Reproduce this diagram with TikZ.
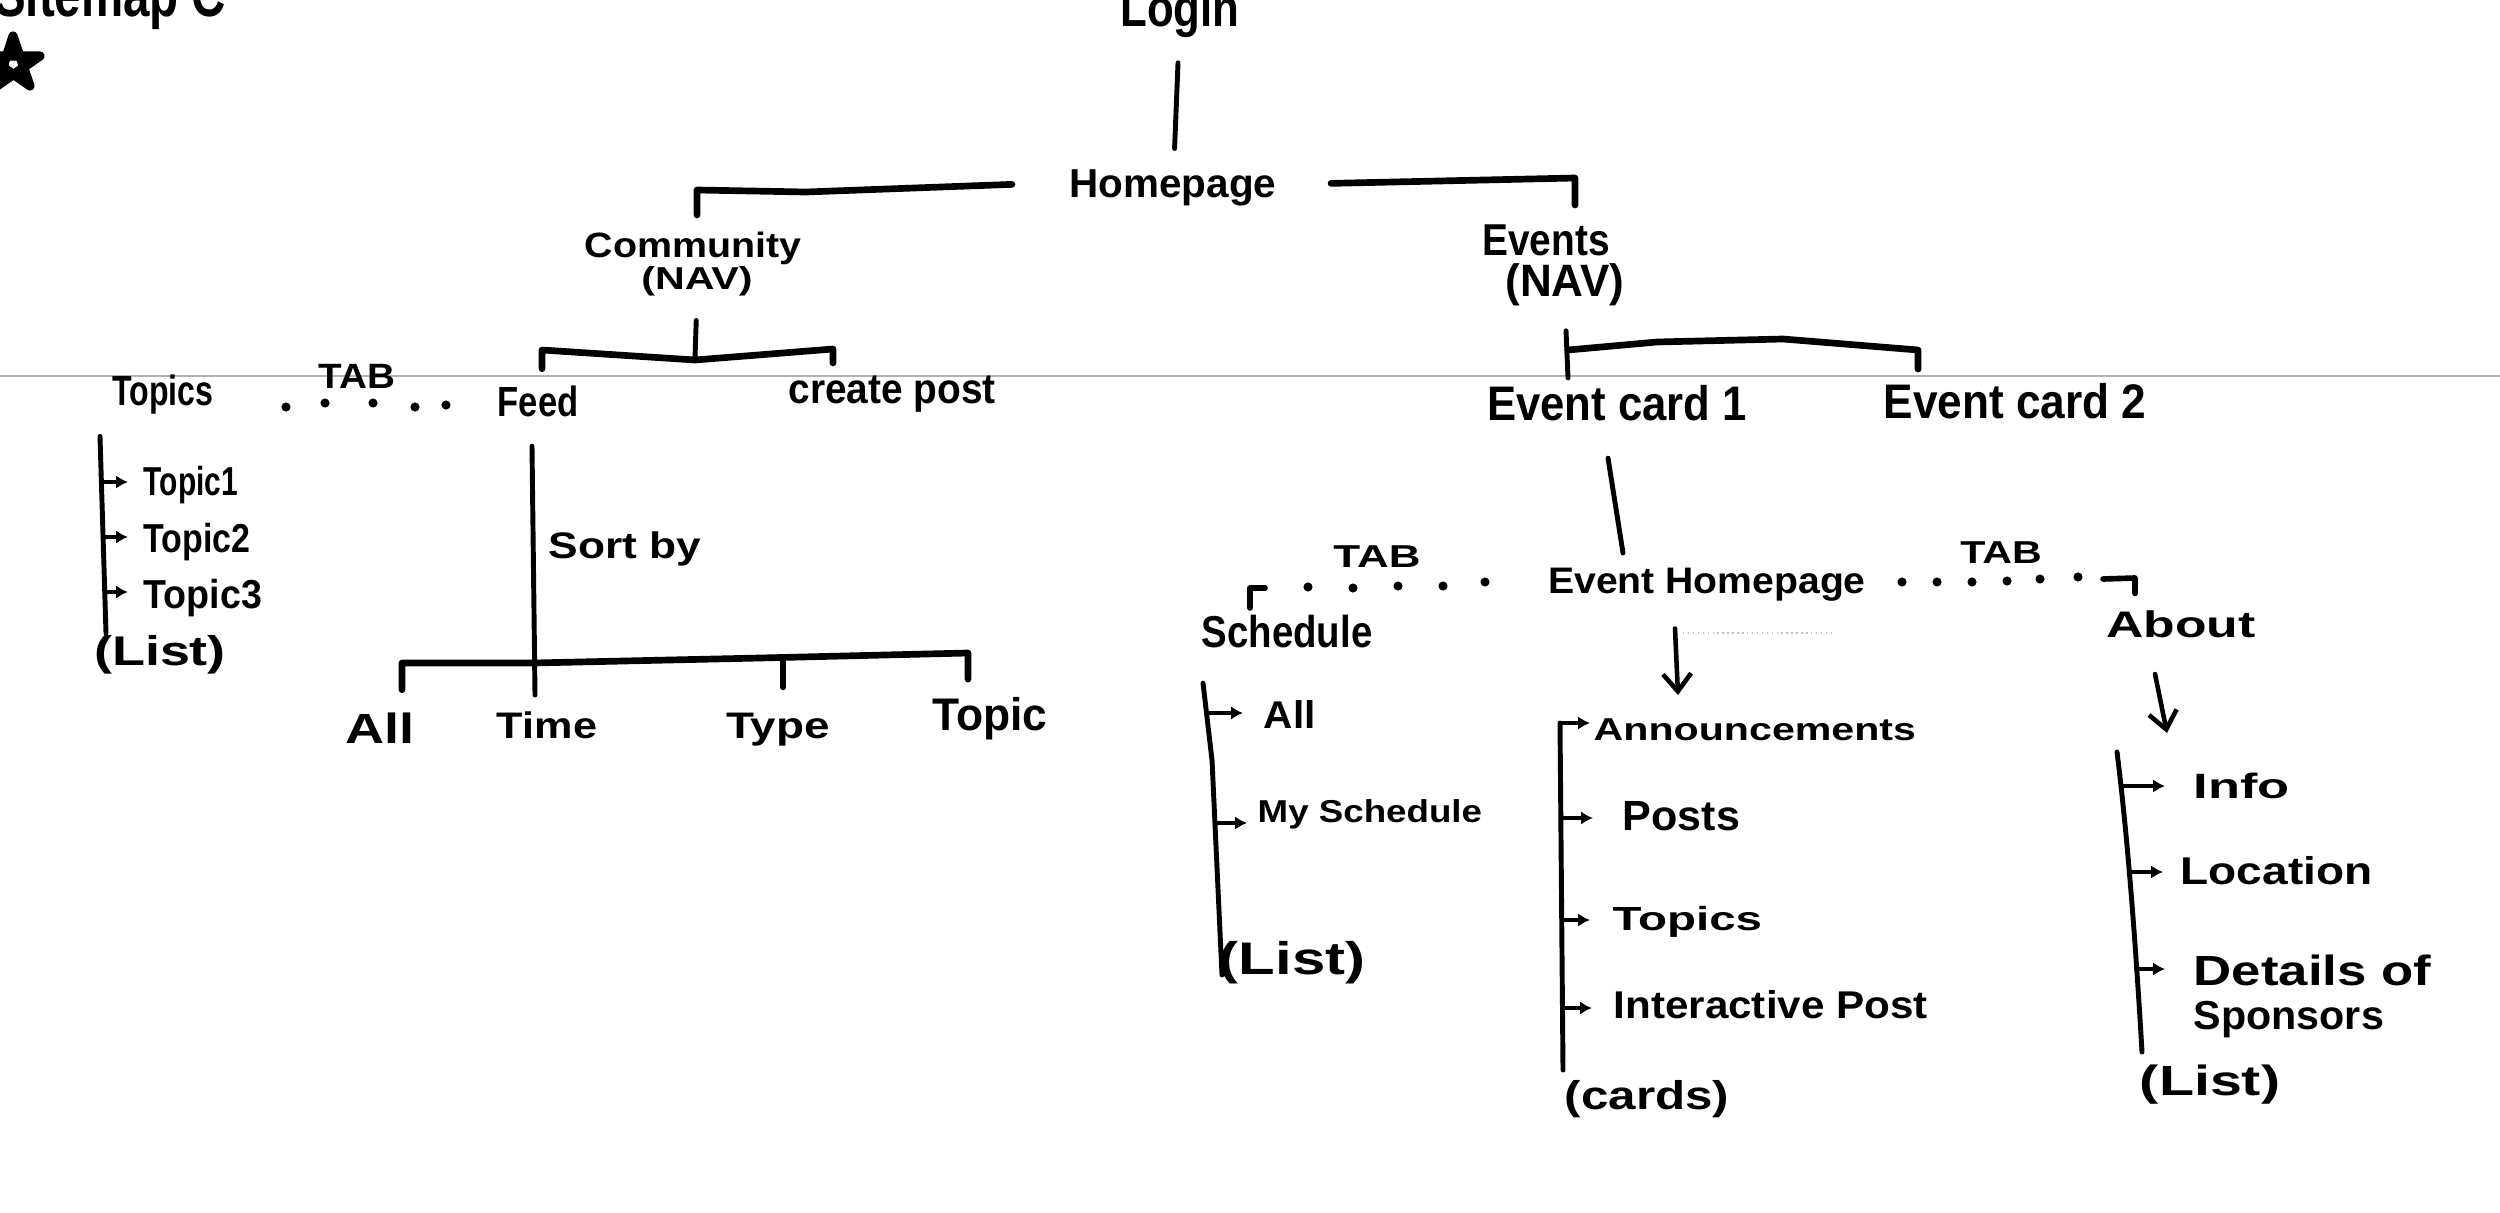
\documentclass[tikz,border=0pt]{standalone}
\usepackage{fontspec}
\setmainfont{Liberation Sans}
\usepackage{graphicx}
\usetikzlibrary{arrows.meta,calc}
\newcommand{\hw}[3]{{\fontsize{#1}{#1}\selectfont\bfseries\scalebox{#2}[1]{#3}}}
\begin{document}
\begin{tikzpicture}[x=0.01cm,y=-0.01cm,
  lbl/.style={inner sep=0pt, anchor=base},
  pen/.style={line width=1.4pt, line cap=round, line join=round},
  brk/.style={line width=1.9pt, line cap=round, line join=round},
  sub/.style={line width=1.1pt, line cap=round, -{Latex[length=3.4pt,width=3.8pt]}},
  down/.style={line width=1.3pt, line cap=round, -{Straight Barb[length=5pt,width=8pt,line width=1.3pt]}},
  starpen/.style={line width=2.6pt, line join=round}]
\useasboundingbox (0,0) rectangle (2500,1212);
\fill[white] (0,0) rectangle (2500,1212);
% scan artefacts
\draw[gray!60, line width=0.5pt] (0,376) -- (2500,376);
\draw[gray!50, line width=0.4pt, densely dotted] (1683,633) -- (1835,633);

% title
\node[lbl, anchor=base east] (title) at (227,16) {\hw{18}{0.75}{Sitemap C}};
\draw[starpen] (13,36) -- (30,86) -- (-13,56) -- (40,56) -- (-3,86) -- cycle;

% top
\node[lbl] (login) at (1180,27) {\hw{15}{0.83}{Login}};
\node[lbl] (home) at (1173,197) {\hw{11.5}{1.0}{Homepage}};
\node[lbl] (comm) at (693,257) {\hw{10}{1.12}{Community}};
\node[lbl, anchor=center] (commnav) at (697,281) {\hw{9}{1.3}{(NAV)}};
\node[lbl] (events) at (1546,255) {\hw{12.7}{0.87}{Events}};
\node[lbl, anchor=center] (evnav) at (1565,285) {\hw{12.9}{0.97}{(NAV)}};

\draw[pen, shorten <=0.24cm, shorten >=0.2cm] (login) -- (home);
\draw[brk] ($(home.west)+(-57,-3)$) -- (806,192) -- (697,190) -- (697,215);
\draw[brk] ($(home.east)+(54,-4)$) -- (1575,178) -- (1575,205);

% community branch
\node[lbl] (topics) at (163,405) {\hw{12}{0.76}{Topics}};
\node[lbl] (tabA) at (357,388) {\hw{10}{1.1}{TAB}};
\node[lbl] (feed) at (538,416) {\hw{12}{0.82}{Feed}};
\node[lbl] (create) at (892,403) {\hw{12}{0.92}{create post}};
\node[lbl, anchor=base west] (topicA) at (143,495) {\hw{11.5}{0.74}{Topic1}};
\node[lbl, anchor=base west] (topicB) at (143,552) {\hw{11.5}{0.84}{Topic2}};
\node[lbl, anchor=base west] (topicC) at (143,608) {\hw{11.5}{0.93}{Topic3}};
\node[lbl, anchor=center] (listA) at (160,655) {\hw{11.8}{1.3}{(List)}};
\node[lbl, anchor=base west] (sortby) at (548,558) {\hw{10.5}{1.2}{Sort by}};
\node[lbl] (sall) at (380,743) {\hw{12}{1.28}{All}};
\node[lbl] (stime) at (547,738) {\hw{10.5}{1.17}{Time}};
\node[lbl] (stype) at (778,738) {\hw{10.5}{1.24}{Type}};
\node[lbl] (stopic) at (990,730) {\hw{13}{0.97}{Topic}};

\draw[pen, shorten <=0.24cm] (commnav.south) -- ++(-2,62);
\draw[brk] ($(feed.north)+(4,-16)$) -- (542,350) -- (695,360) -- (833,349) -- (833,363);
\foreach \x/\y in {286/407,325/403,373/403,415/407,446/405}
  \fill (\x,\y) circle[radius=1.3pt];
\draw[pen] ($(topics.south)+(-63,22)$) -- (106,633);
\draw[sub] (101.5,482) -- (128,482);
\draw[sub] (103,537) -- (128,537);
\draw[sub] (104.7,592) -- (128,592);
\draw[pen] ($(feed.south)+(-6,29)$) -- (535,695);
\draw[brk] ($(sall.north)+(22,-22)$) -- (402,663) -- (533,663) -- (760,658) -- (968,653) -- ($(stopic.north)+(-22,-17)$);
\draw[brk] (783,658) -- ($(stype.north)+(5,-25)$);

% events branch
\node[lbl] (ecA) at (1617,420) {\hw{13.8}{0.9}{Event card 1}};
\node[lbl] (ecB) at (2015,418) {\hw{13.8}{0.91}{Event card 2}};
\node[lbl] (evhome) at (1707,593) {\hw{10.5}{1.06}{Event Homepage}};
\node[lbl] (tabB) at (1377,567) {\hw{9}{1.39}{TAB}};
\node[lbl] (tabC) at (2001,563) {\hw{9}{1.3}{TAB}};
\node[lbl] (sched) at (1287,647) {\hw{12.7}{0.86}{Schedule}};
\node[lbl] (about) at (2181,637) {\hw{10.5}{1.4}{About}};

\draw[pen, shorten <=0.24cm] (evnav.south) -- ++(3,71);
\draw[brk] (1568,350) -- (1657,342) -- (1783,339) -- (1918,350) -- ($(ecB.north)+(-97,-13)$);
\draw[pen] ($(ecA.south)+(-9,37)$) -- (1623,553);
\draw[brk, line width=1.6pt] (1265,588) -- (1250,588) -- ($(sched.north)+(-37,-6)$);
\foreach \x/\y in {1308/587,1353/588,1398/586,1443/586,1485/582}
  \fill (\x,\y) circle[radius=1.3pt];
\foreach \x/\y in {1902/582,1937/582,1972/582,2007/581,2040/579,2078/577}
  \fill (\x,\y) circle[radius=1.3pt];
\draw[brk, line width=1.6pt] (2103,579) -- (2135,578) -- ($(about.north)+(-46,-16)$);

% schedule list
\node[lbl, anchor=base west] (schall) at (1263,728) {\hw{11}{1.05}{All}};
\node[lbl, anchor=base west] (mysched) at (1257,822) {\hw{9}{1.16}{My Schedule}};
\node[lbl, anchor=center] (slist) at (1292,963) {\hw{13}{1.31}{(List)}};
\draw[pen] ($(sched.south)+(-84,35)$) -- (1212,760) -- (1222,975);
\draw[sub] (1207,713) -- (1243,713);
\draw[sub] (1217,823) -- (1247,823);

% event homepage list
\node[lbl, anchor=base west] (ann) at (1593,740) {\hw{9}{1.3}{Announcements}};
\node[lbl, anchor=base west] (posts) at (1622,830) {\hw{12}{1.02}{Posts}};
\node[lbl, anchor=base west] (ctopics) at (1612,930) {\hw{9.5}{1.42}{Topics}};
\node[lbl, anchor=base west] (inter) at (1613,1018) {\hw{11}{1.09}{Interactive Post}};
\node[lbl, anchor=center] (cards) at (1647,1099) {\hw{11.4}{1.23}{(cards)}};
\draw[down] ($(evhome.south)+(-32,27)$) -- (1678,695);
\draw[pen] (1560,723) -- (1563,1070);
\draw[sub] (1560,723) -- (1590,723);
\draw[sub] (1562,818) -- (1593,818);
\draw[sub] (1562,920) -- (1590,920);
\draw[sub] (1563,1008) -- (1592,1008);

% about list
\node[lbl, anchor=base west] (info) at (2193,798) {\hw{10}{1.49}{Info}};
\node[lbl, anchor=base west] (loc) at (2180,884) {\hw{11}{1.19}{Location}};
\node[lbl, anchor=base west] (det) at (2193,985) {\hw{12}{1.25}{Details of}};
\node[lbl, anchor=base west] (spons) at (2193,1029) {\hw{11.5}{1.02}{Sponsors}};
\node[lbl, anchor=center] (alist) at (2210,1085) {\hw{12}{1.36}{(List)}};
\draw[down] ($(about.south)+(-26,36)$) -- (2167,733);
\draw[pen] (2117,752) .. controls (2128,840) and (2136,950) .. (2142,1052);
\draw[sub] (2122,786) -- (2165,786);
\draw[sub] (2129,872) -- (2163,872);
\draw[sub] (2136,969) -- (2165,969);
\end{tikzpicture}
\end{document}
